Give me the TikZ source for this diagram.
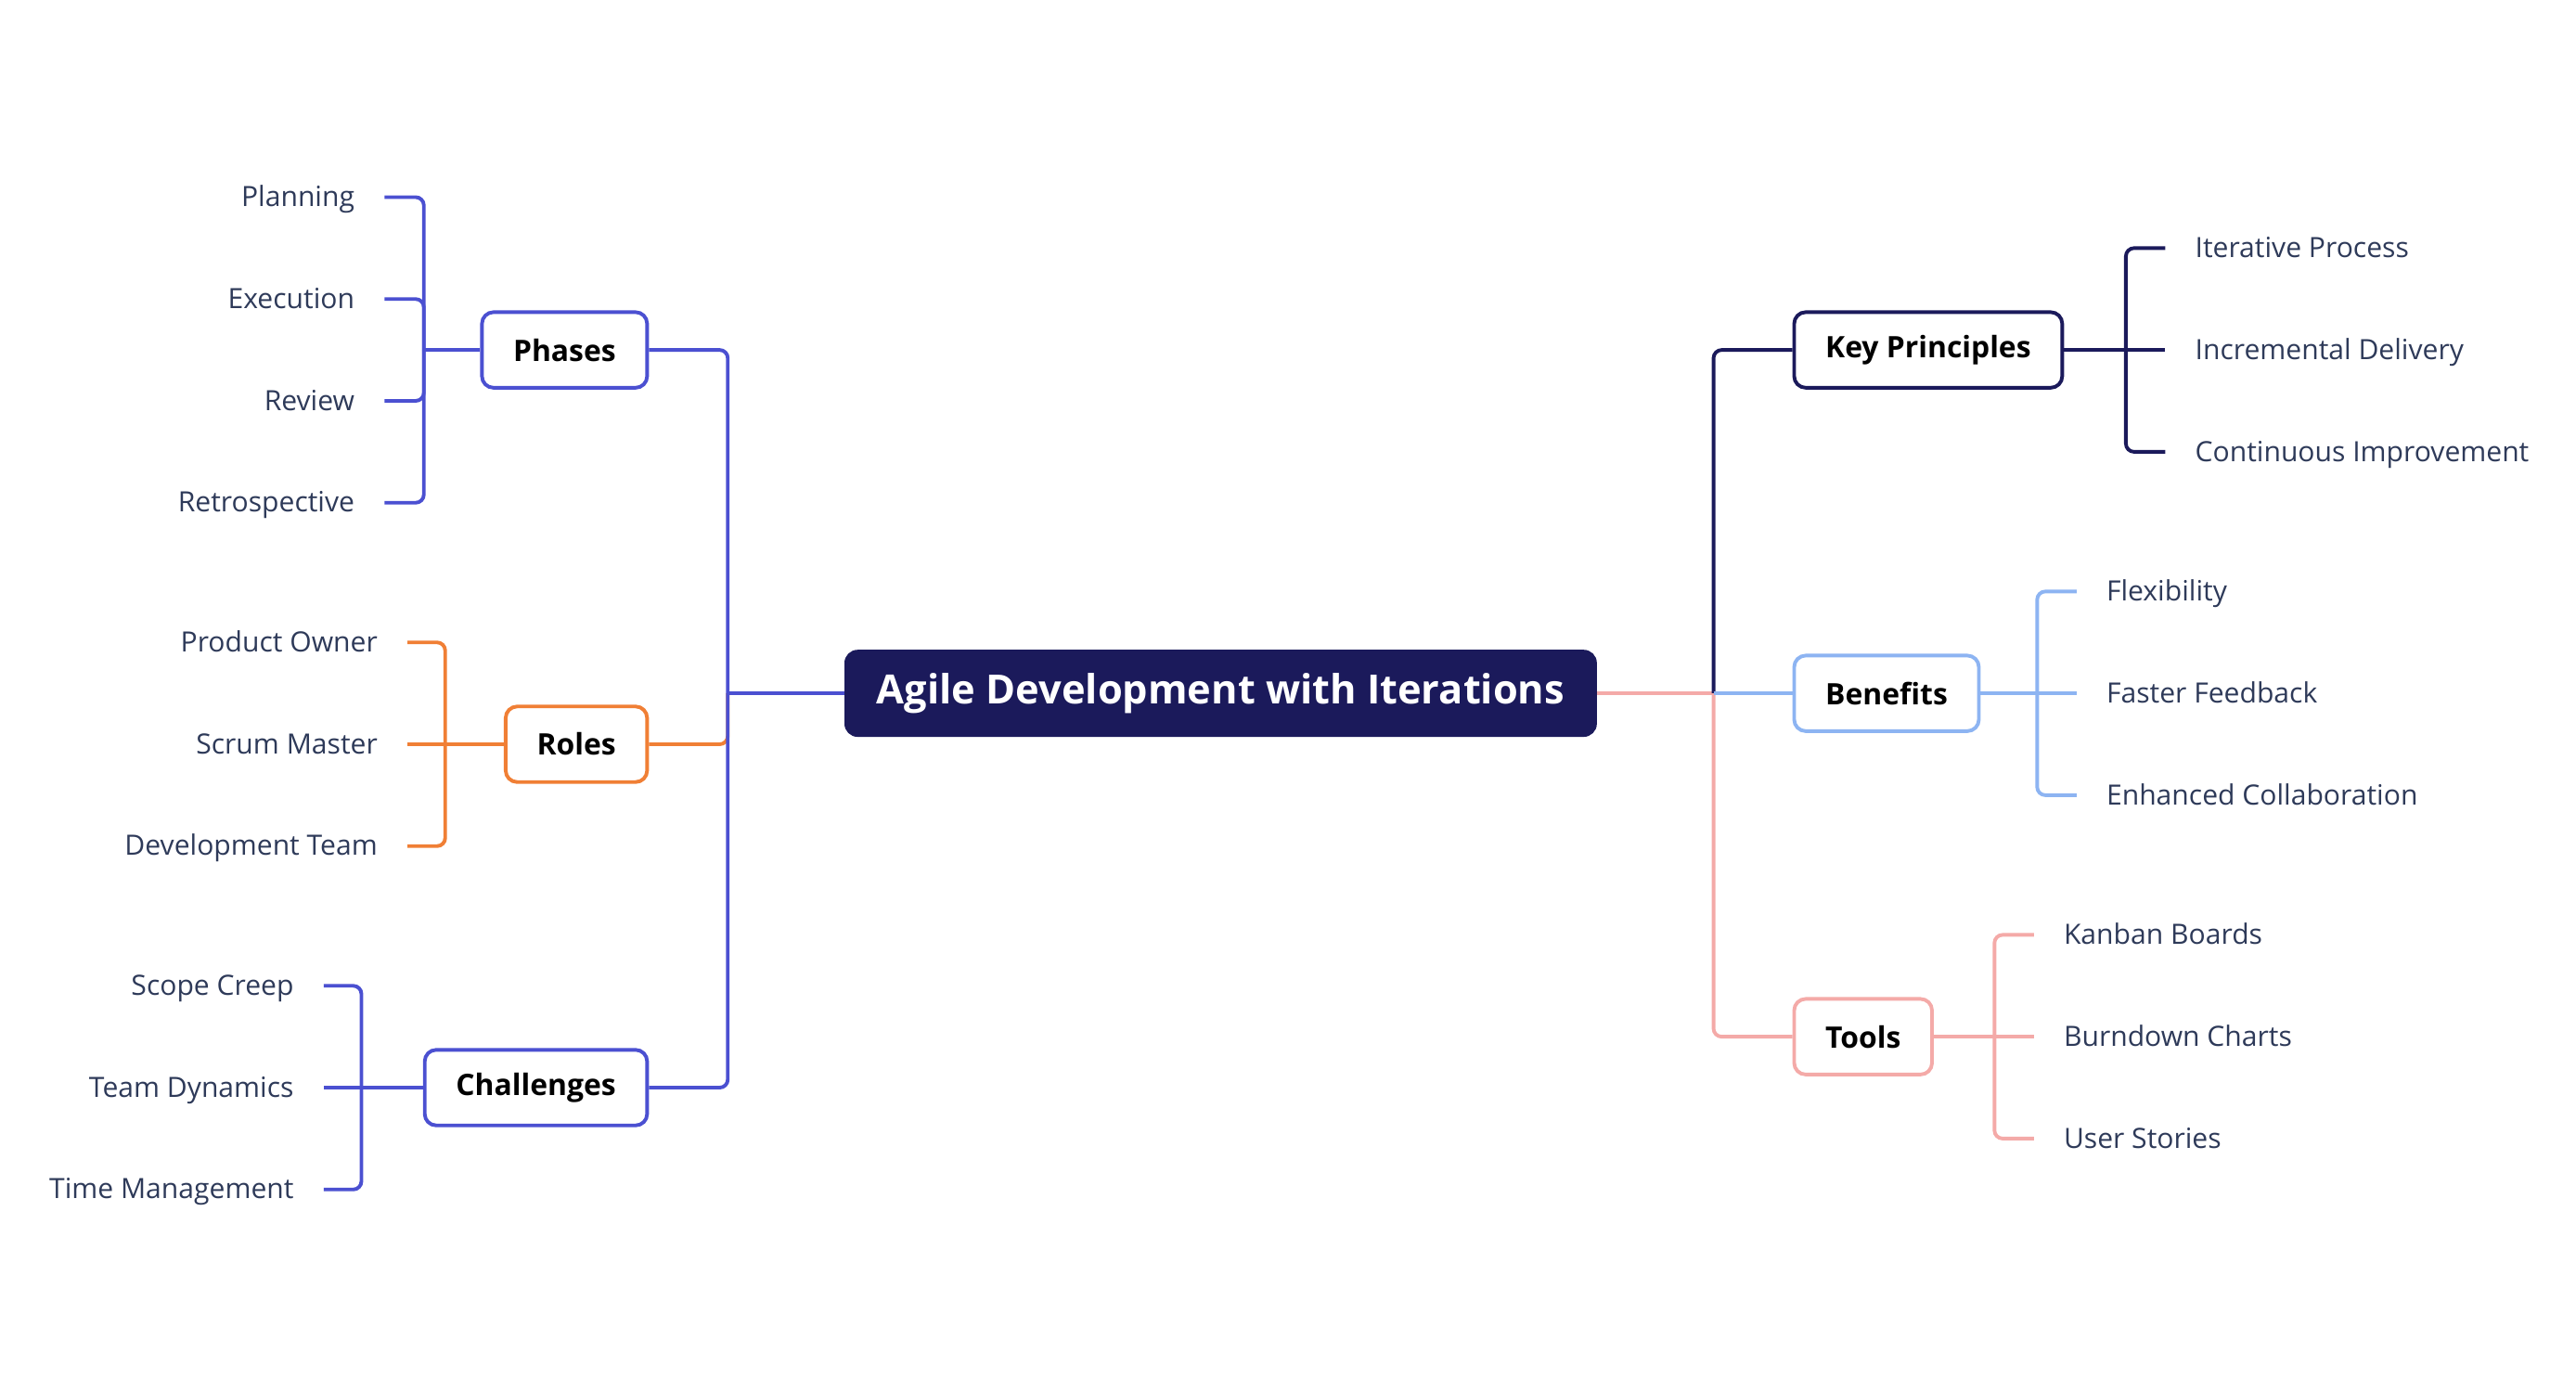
\documentclass[tikz,border=0pt]{standalone}
\usepackage{fontspec}
\setmainfont{Open Sans}
\definecolor{navy}{HTML}{1B1A5B}
\definecolor{violet}{HTML}{4B50D1}
\definecolor{orng}{HTML}{F07F35}
\definecolor{skyblue}{HTML}{8DB4F2}
\definecolor{rose}{HTML}{F4AAA8}
\definecolor{itemtext}{HTML}{2E3A59}
\newcommand{\gap}{18pt}

\begin{document}
\begin{tikzpicture}[x=1pt,y=-1pt,
    box/.style={draw, rectangle, rounded corners=7pt, line width=2.2pt, fill=white, minimum height=46pt, inner xsep=19pt, font=\fontsize{18}{22}\selectfont\bfseries},
    item/.style={text=itemtext, inner sep=0pt, text height=13pt, text depth=1.5pt, font=\fontsize{17}{20}\selectfont},
    link/.style={line width=2.2pt, rounded corners=5pt}]
    \useasboundingbox (0,0) rectangle (1568,838.8);

    % Centre
    \node[rectangle, rounded corners=8pt, fill=navy, text=white, minimum width=458pt, minimum height=53pt, font=\fontsize{24.5}{30}\selectfont\bfseries] (agile) at (743,422) {Agile Development with Iterations};
    \coordinate (leftT) at (443,422);
    \coordinate (rightT) at (1043,422);

    % Left branches
    \node[box, draw=violet, anchor=east] (phases) at (395,213) {Phases};
    \node[box, draw=orng, anchor=east] (roles) at (395,453) {Roles};
    \node[box, draw=violet, anchor=east] (challenges) at (395,662) {Challenges};

    \node[item, anchor=east] (planning) at (216,120) {Planning};
    \node[item, anchor=east] (execution) at (216,182) {Execution};
    \node[item, anchor=east] (review) at (216,244) {Review};
    \node[item, anchor=east] (retro) at (216,306) {Retrospective};

    \node[item, anchor=east] (owner) at (230,391) {Product Owner};
    \node[item, anchor=east] (master) at (230,453) {Scrum Master};
    \node[item, anchor=east] (devteam) at (230,515) {Development Team};

    \node[item, anchor=east] (creep) at (179,600) {Scope Creep};
    \node[item, anchor=east] (dynamics) at (179,662) {Team Dynamics};
    \node[item, anchor=east] (timemgmt) at (179,724) {Time Management};

    % Right branches
    \node[box, draw=navy, anchor=west] (principles) at (1091,213) {Key Principles};
    \node[box, draw=skyblue, anchor=west] (benefits) at (1091,422) {Benefits};
    \node[box, draw=rose, anchor=west] (tools) at (1091,631) {Tools};

    \node[item, anchor=west] (iterative) at (1336,151) {Iterative Process};
    \node[item, anchor=west] (incremental) at (1336,213) {Incremental Delivery};
    \node[item, anchor=west] (continuous) at (1336,275) {Continuous Improvement};

    \node[item, anchor=west] (flexibility) at (1282,360) {Flexibility};
    \node[item, anchor=west] (feedback) at (1282,422) {Faster Feedback};
    \node[item, anchor=west] (collab) at (1282,484) {Enhanced Collaboration};

    \node[item, anchor=west] (kanban) at (1256,569) {Kanban Boards};
    \node[item, anchor=west] (burndown) at (1256,631) {Burndown Charts};
    \node[item, anchor=west] (stories) at (1256,693) {User Stories};

    % Trunks
    \draw[link, orng] (roles.east) -| (leftT);
    \draw[link, violet] (phases.east) -| (leftT);
    \draw[link, violet] (challenges.east) -| (leftT);
    \draw[link, violet] (leftT) -- (agile.west);

    \draw[link, rose] (agile.east) -- (rightT);
    \draw[link, navy] (rightT) |- (principles.west);
    \draw[link, rose] (rightT) |- (tools.west);
    \draw[link, skyblue] (rightT) -- (benefits.west);

    % Phases brackets
    \coordinate (phasesB) at (258,213);
    \draw[link, violet] (phases.west) -- (phasesB);
    \draw[link, violet] ([xshift=\gap]planning.east) -| (phasesB);
    \draw[link, violet] ([xshift=\gap]execution.east) -| (phasesB);
    \draw[link, violet] ([xshift=\gap]review.east) -| (phasesB);
    \draw[link, violet] ([xshift=\gap]retro.east) -| (phasesB);

    % Roles brackets
    \coordinate (rolesB) at (271,453);
    \draw[link, orng] (roles.west) -- ([xshift=\gap]master.east);
    \draw[link, orng] ([xshift=\gap]owner.east) -| (rolesB);
    \draw[link, orng] ([xshift=\gap]devteam.east) -| (rolesB);

    % Challenges brackets
    \coordinate (challB) at (220,662);
    \draw[link, violet] (challenges.west) -- ([xshift=\gap]dynamics.east);
    \draw[link, violet] ([xshift=\gap]creep.east) -| (challB);
    \draw[link, violet] ([xshift=\gap]timemgmt.east) -| (challB);

    % Key Principles brackets
    \coordinate (princB) at (1294,213);
    \draw[link, navy] (principles.east) -- ([xshift=-\gap]incremental.west);
    \draw[link, navy] ([xshift=-\gap]iterative.west) -| (princB);
    \draw[link, navy] ([xshift=-\gap]continuous.west) -| (princB);

    % Benefits brackets
    \coordinate (benB) at (1240,422);
    \draw[link, skyblue] (benefits.east) -- ([xshift=-\gap]feedback.west);
    \draw[link, skyblue] ([xshift=-\gap]flexibility.west) -| (benB);
    \draw[link, skyblue] ([xshift=-\gap]collab.west) -| (benB);

    % Tools brackets
    \coordinate (toolsB) at (1214,631);
    \draw[link, rose] (tools.east) -- ([xshift=-\gap]burndown.west);
    \draw[link, rose] ([xshift=-\gap]kanban.west) -| (toolsB);
    \draw[link, rose] ([xshift=-\gap]stories.west) -| (toolsB);

\end{tikzpicture}
\end{document}
